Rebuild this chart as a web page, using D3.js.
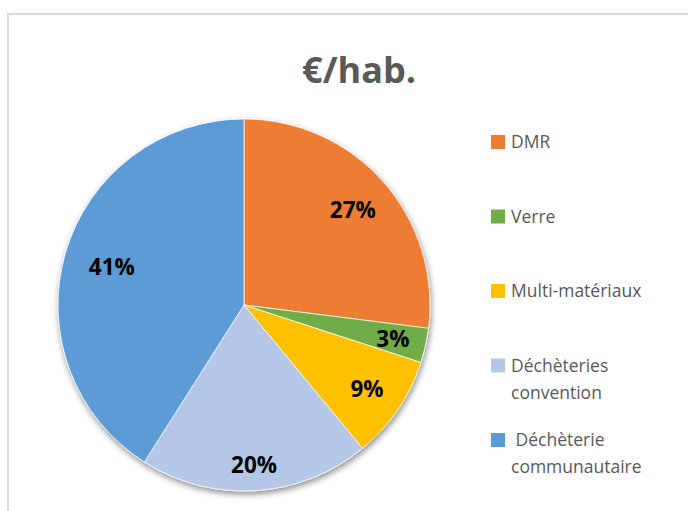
<!DOCTYPE html>
<html>
<head>
<meta charset="utf-8">
<script src="https://cdn.jsdelivr.net/npm/d3@7"></script>
<style>
  html, body { margin: 0; padding: 0; background: #ffffff; }
  svg { display: block; }
  text { white-space: pre; }
</style>
</head>
<body>
<script>
// Cost breakdown per inhabitant (€/hab.), in percent of the total
const categories = ["DMR", "Verre", "Multi-matériaux", "Déchèteries convention", "Déchèterie communautaire"];
const shares = [27, 3, 9, 20, 41];
const colors = ["#ED7D31", "#70AD47", "#FFC000", "#B4C7E7", "#5B9BD5"];
// Legend entries, split over lines as they are printed
const legendLines = [["DMR"], ["Verre"], ["Multi-matériaux"], ["Déchèteries", "convention"], [" Déchèterie", "communautaire"]];
const title = "€/hab.";

// label placement, as a fraction of the pie radius (best-fit positions)
const labelRadiusFactor = [0.78, 0.82, 0.8, 0.86, 0.74];

const W = 688, H = 511;
const svg = d3.select("body").append("svg").attr("width", W).attr("height", H);

// chart area frame
svg.append("rect")
  .attr("x", 8).attr("y", 14)
  .attr("width", W).attr("height", H)
  .attr("fill", "#ffffff")
  .attr("stroke", "#d9d9d9").attr("stroke-width", 2);

// soft shadow under the pie
const defs = svg.append("defs");
const f = defs.append("filter").attr("id", "pieShadow")
  .attr("x", "-20%").attr("y", "-20%").attr("width", "140%").attr("height", "140%");
f.append("feDropShadow").attr("dx", 1).attr("dy", 3).attr("stdDeviation", 3)
  .attr("flood-color", "#000").attr("flood-opacity", 0.45);

svg.append("text")
  .attr("x", 359).attr("y", 83)
  .attr("text-anchor", "middle")
  .attr("font-family", "'Open Sans', sans-serif")
  .attr("font-weight", "bold")
  .attr("font-size", 36)
  .attr("fill", "#595959")
  .text(title);

const cx = 244, cy = 305, R = 186;
const data = categories.map((c, i) => ({ name: c, value: shares[i], color: colors[i], lr: labelRadiusFactor[i] }));

const pie = d3.pie().value(d => d.value).sort(null);
const arc = d3.arc().innerRadius(0).outerRadius(R);

const g = svg.append("g").attr("transform", `translate(${cx},${cy})`);
const arcs = pie(data);

g.append("g").attr("filter", "url(#pieShadow)")
  .selectAll("path").data(arcs).join("path")
  .attr("d", arc)
  .attr("fill", d => d.data.color)
  .attr("stroke", "#ffffff")
  .attr("stroke-width", 0.75);

g.selectAll("text.lbl").data(arcs).join("text")
  .attr("class", "lbl")
  .attr("transform", d => {
    const r = R * d.data.lr;
    const la = d3.arc().innerRadius(r).outerRadius(r);
    return `translate(${la.centroid(d)})`;
  })
  .attr("text-anchor", "middle")
  .attr("dominant-baseline", "central")
  .attr("font-family", "'Open Sans', sans-serif")
  .attr("font-weight", "bold")
  .attr("font-size", 22.5)
  .attr("fill", "#000000")
  .text(d => d.data.value + "%");

// legend
const legendY = d3.scalePoint().domain(categories).range([142, 440]);
const lg = svg.append("g");
categories.forEach((c, i) => {
  const y = legendY(c);
  lg.append("rect")
    .attr("x", 491).attr("y", y - 7)
    .attr("width", 14).attr("height", 14)
    .attr("fill", colors[i]);
  const t = lg.append("text")
    .attr("x", 511).attr("y", y + 6)
    .attr("font-family", "'Open Sans', sans-serif")
    .attr("font-size", 17.5)
    .attr("fill", "#595959");
  legendLines[i].forEach((line, j) => {
    t.append("tspan").attr("x", 511).attr("dy", j === 0 ? 0 : 27).text(line);
  });
});
</script>
</body>
</html>
